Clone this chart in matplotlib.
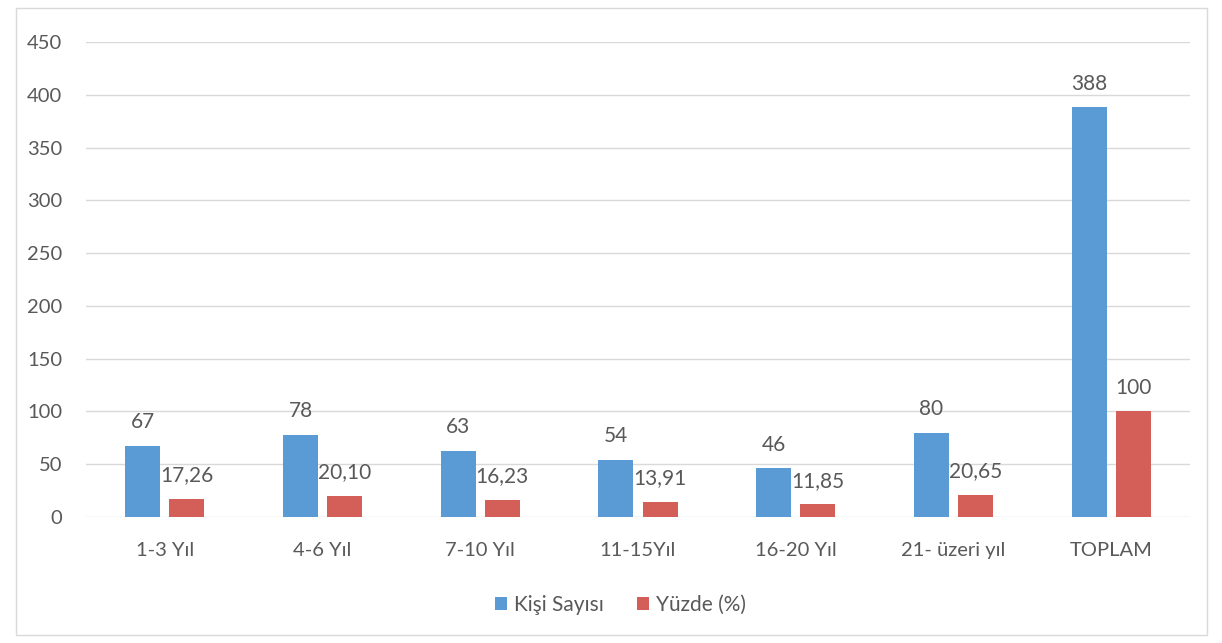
import matplotlib.pyplot as plt
from matplotlib.patches import Rectangle
import numpy as np

plt.rcParams['font.family'] = ['Lato', 'DejaVu Sans']

categories = ['1-3 Yıl', '4-6 Yıl', '7-10 Yıl', '11-15Yıl', '16-20 Yıl', '21- üzeri yıl', 'TOPLAM']
kisi_sayisi = [67, 78, 63, 54, 46, 80, 388]
yuzde = [17.26, 20.10, 16.23, 13.91, 11.85, 20.65, 100]
yuzde_labels = ['17,26', '20,10', '16,23', '13,91', '11,85', '20,65', '100']

blue = '#5B9BD5'
red = '#D45F59'
text_gray = '#595959'

fig = plt.figure(figsize=(12.22, 6.43), dpi=100)
fig.patch.set_facecolor('white')
# light frame round the whole chart
fig.patches.append(Rectangle((0.013, 0.012), 0.975, 0.975, transform=fig.transFigure,
                             fill=False, edgecolor='#D9D9D9', linewidth=1.0))

ax = fig.add_axes([86 / 1222, 1 - 517 / 643, (1190 - 86) / 1222, (517 - 42) / 643])
x = np.arange(len(categories))
w = 0.222
off = 0.14

b1 = ax.bar(x - off, kisi_sayisi, w, color=blue, label='Kişi Sayısı', zorder=3)
b2 = ax.bar(x + off, yuzde, w, color=red, label='Yüzde (%)', zorder=3)

for rect, v in zip(b1, kisi_sayisi):
    ax.annotate(str(v), (rect.get_x() + rect.get_width() / 2, v), xytext=(0, 10),
                textcoords='offset points', ha='center', va='bottom',
                fontsize=15, color=text_gray)
for rect, v, lab in zip(b2, yuzde, yuzde_labels):
    ax.annotate(lab, (rect.get_x() + rect.get_width() / 2, v), xytext=(0, 10),
                textcoords='offset points', ha='center', va='bottom',
                fontsize=15, color=text_gray)

ax.set_xlim(-0.5, len(categories) - 0.5)
ax.set_ylim(0, 450)
ax.set_yticks(range(0, 451, 50))
ax.yaxis.grid(True, color='#D9D9D9', linewidth=1.0, zorder=0)
ax.set_axisbelow(True)
for s in ax.spines.values():
    s.set_visible(False)
ax.tick_params(axis='both', length=0, labelsize=14.5, labelcolor=text_gray)
ax.tick_params(axis='y', pad=17)
ax.tick_params(axis='x', pad=18)
ax.set_xticks(x)
ax.set_xticklabels(categories)

fig.legend(loc='center', bbox_to_anchor=(0.508, 1 - 605 / 643), ncol=2, frameon=False,
           fontsize=15, handlelength=0.55, handleheight=0.55, handletextpad=0.35,
           columnspacing=1.6, labelcolor=text_gray)

fig.savefig('out.png', dpi=100)
